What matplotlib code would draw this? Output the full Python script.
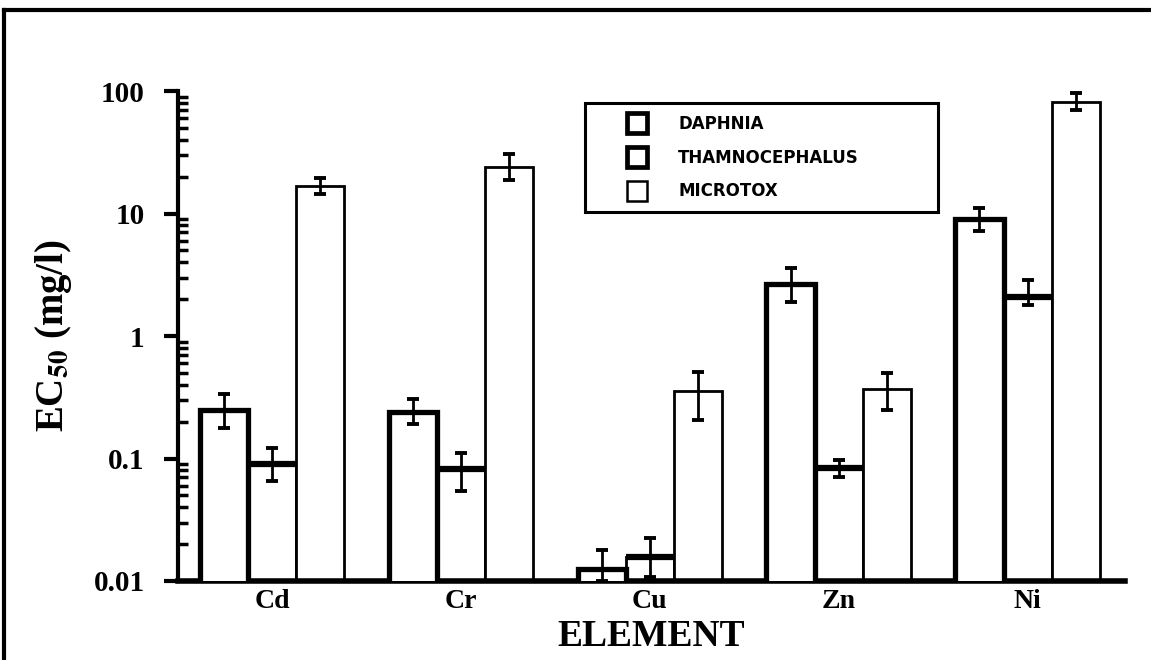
import numpy as np
import matplotlib
matplotlib.use("Agg")
import matplotlib.pyplot as plt
from matplotlib.lines import Line2D
from matplotlib.ticker import LogLocator, FixedFormatter, FixedLocator

# EC50 values (mg/l), with error bar ends
elements = ["Cd", "Cr", "Cu", "Zn", "Ni"]
daphnia = [0.25, 0.24, 0.0125, 2.66, 9.0]
daphnia_lo = [0.177, 0.191, 0.0100, 1.90, 7.2]
daphnia_hi = [0.336, 0.306, 0.0179, 3.59, 11.1]
thamno = [0.090, 0.082, 0.0157, 0.084, 2.08]
thamno_lo = [0.0655, 0.0543, 0.0108, 0.0706, 1.79]
thamno_hi = [0.122, 0.111, 0.0224, 0.097, 2.87]
microtox = [16.8, 24.0, 0.356, 0.37, 81.0]
microtox_lo = [14.4, 18.8, 0.206, 0.249, 70.0]
microtox_hi = [19.5, 30.6, 0.508, 0.50, 96.3]
series_names = ["DAPHNIA", "THAMNOCEPHALUS", "MICROTOX"]
ytick_vals = [0.01, 0.1, 1, 10, 100]
ytick_labels = ["0.01", "0.1", "1", "10", "100"]

serif = ["Liberation Serif", "DejaVu Serif"]
sans = ["DejaVu Sans"]
plt.rcParams["mathtext.fontset"] = "stix"

fig = plt.figure(figsize=(11.51, 6.6), dpi=100)
ax = fig.add_axes([0.1547, 0.1197, 0.8223, 0.7424])
ax.set_yscale("log")

x = np.arange(len(elements))
w = 0.255


def yerr(vals, lo, hi):
    vals = np.array(vals)
    return [vals - np.array(lo), np.array(hi) - vals]


ax.bar(x - w, daphnia, w, color="white", edgecolor="black", linewidth=3.8, zorder=3)
ax.bar(x, thamno, w, color="white", edgecolor="black", linewidth=2.0, zorder=2)
ax.hlines(thamno, x - w / 2, x + w / 2, colors="black", linewidth=4.5, zorder=4)
ax.bar(x + w, microtox, w, color="white", edgecolor="black", linewidth=2.0, zorder=2)

for xs, vals, lo, hi in [(x - w, daphnia, daphnia_lo, daphnia_hi),
                         (x, thamno, thamno_lo, thamno_hi),
                         (x + w, microtox, microtox_lo, microtox_hi)]:
    ax.errorbar(xs, vals, yerr=yerr(vals, lo, hi), fmt="none", ecolor="black",
                elinewidth=2.0, capsize=4.5, capthick=2.8, zorder=5)

ax.set_xlim(-0.497, 4.513)
ax.set_ylim(0.01, 100)

ax.spines["top"].set_visible(False)
ax.spines["right"].set_visible(False)
ax.spines["left"].set_linewidth(3)
ax.spines["bottom"].set_linewidth(4)

ax.yaxis.set_major_locator(FixedLocator(ytick_vals))
ax.yaxis.set_major_formatter(FixedFormatter(ytick_labels))
ax.yaxis.set_minor_locator(LogLocator(base=10, subs=np.arange(2, 10)))
ax.tick_params(axis="y", which="major", direction="out", length=10, width=3, pad=14)
ax.tick_params(axis="y", which="minor", direction="in", length=7, width=2.5, labelleft=False)
for lab in ax.get_yticklabels():
    lab.set_fontfamily(serif)
    lab.set_fontweight("bold")
    lab.set_fontsize(21)

ax.set_xticks(x)
ax.set_xticklabels(elements, fontfamily=serif, fontweight="bold", fontsize=20)
ax.tick_params(axis="x", length=0, pad=6)

ax.set_xlabel("ELEMENT", fontfamily=serif, fontweight="bold", fontsize=27)
ax.xaxis.set_label_coords(0.5, -0.078)
ax.set_ylabel(r"EC$_{\mathbf{50}}$ (mg/l)", fontfamily=serif, fontweight="bold",
              fontsize=28)
ax.yaxis.set_label_coords(-0.11, 0.5)

markers = [Line2D([], [], linestyle="none", marker="s", markersize=14,
                  markerfacecolor="white", markeredgecolor="black", markeredgewidth=mew)
           for mew in (3.4, 3.4, 1.8)]
leg = ax.legend(markers, series_names, loc="upper left",
                bbox_to_anchor=(0.4298, 0.5, 0.3728, 0.4755), mode="expand",
                prop={"family": sans, "weight": "bold", "size": 12},
                frameon=True, fancybox=False, edgecolor="black", framealpha=1,
                handlelength=4.8, handletextpad=0.1,
                labelspacing=0.95, borderpad=0.7, borderaxespad=0)
leg.get_frame().set_linewidth(2.2)
leg.set_zorder(10)

# outer frame lines of the scanned figure
fig.add_artist(Line2D([0.0035, 0.0035], [0, 0.985], transform=fig.transFigure,
                      color="black", linewidth=3))
fig.add_artist(Line2D([0.0035, 1.0], [0.985, 0.985], transform=fig.transFigure,
                      color="black", linewidth=3))

fig.savefig("out.png", dpi=100)
